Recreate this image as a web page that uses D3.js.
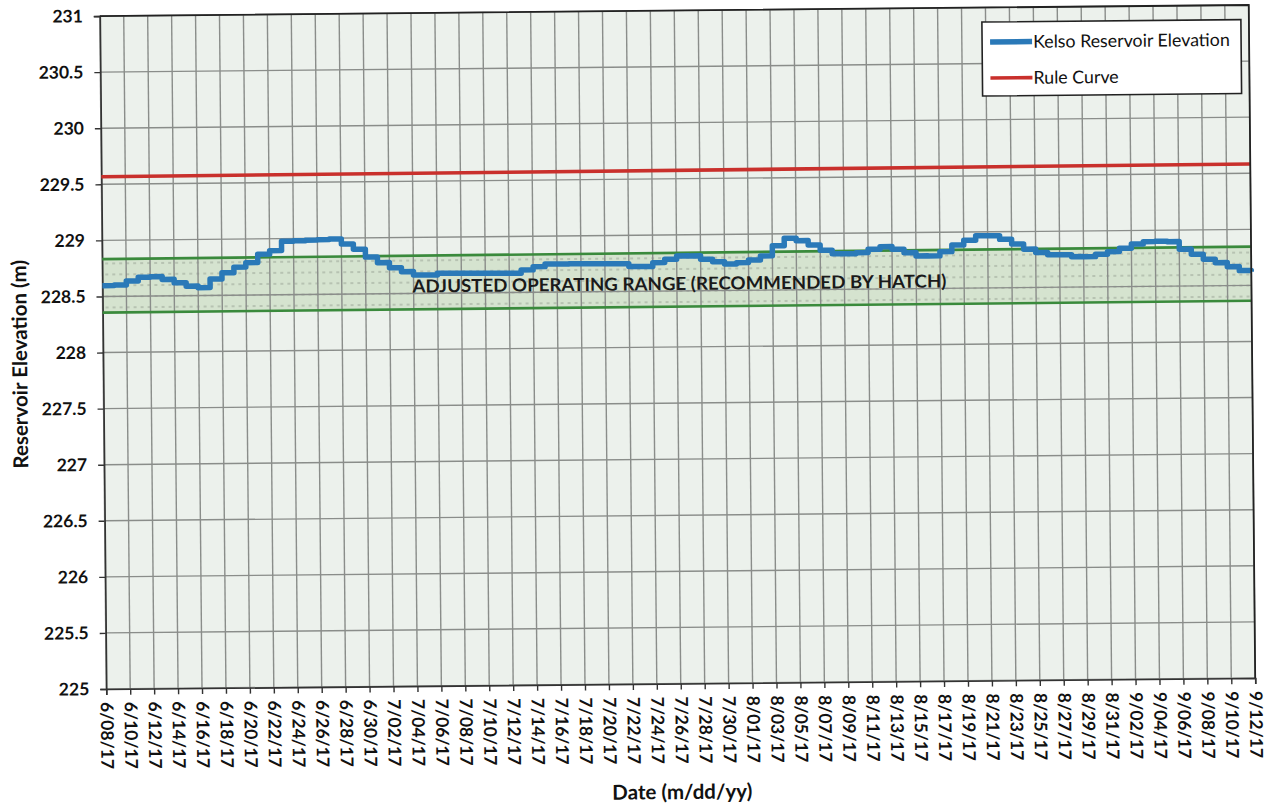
<!DOCTYPE html>
<html><head><meta charset="utf-8">
<script src="https://cdn.jsdelivr.net/npm/d3@7"></script>
<style>
body{margin:0;background:#fff}
svg{display:block}
text{font-family:Lato,'Open Sans','DejaVu Sans',sans-serif}
</style>
</head><body>
<svg id="chart" width="1270" height="807"></svg>
<script>
// ---------------- DATA ----------------
const startDate = "2017-06-08";
const tickLabels = ["6/08/17","6/10/17","6/12/17","6/14/17","6/16/17","6/18/17","6/20/17","6/22/17","6/24/17","6/26/17","6/28/17","6/30/17",
  "7/02/17","7/04/17","7/06/17","7/08/17","7/10/17","7/12/17","7/14/17","7/16/17","7/18/17","7/20/17","7/22/17","7/24/17","7/26/17","7/28/17","7/30/17",
  "8/01/17","8/03/17","8/05/17","8/07/17","8/09/17","8/11/17","8/13/17","8/15/17","8/17/17","8/19/17","8/21/17","8/23/17","8/25/17","8/27/17","8/29/17","8/31/17",
  "9/02/17","9/04/17","9/06/17","9/08/17","9/10/17","9/12/17"];
// daily Kelso reservoir elevation (m), 6/08/17 .. 9/12/17
const elevation = [
  228.596,228.600,228.635,228.668,228.672,228.646,228.615,228.584,228.570,228.646,
  228.701,228.750,228.789,228.863,228.894,228.976,228.980,228.984,228.988,228.992,
  228.947,228.899,228.828,228.777,228.731,228.695,228.664,228.663,228.677,228.676,
  228.675,228.674,228.673,228.672,228.671,228.700,228.728,228.751,228.750,228.751,
  228.750,228.749,228.748,228.747,228.721,228.720,228.754,228.783,228.812,228.811,
  228.780,228.757,228.736,228.747,228.769,228.805,228.894,228.960,228.938,228.898,
  228.850,228.818,228.817,228.826,228.855,228.877,228.853,228.822,228.791,228.790,
  228.827,228.885,228.927,228.966,228.965,228.932,228.889,228.842,228.811,228.790,
  228.789,228.771,228.770,228.791,228.813,228.842,228.879,228.899,228.901,228.897,
  228.829,228.783,228.737,228.706,228.669,228.633,228.622];
const ruleCurve = [229.567, 229.583];     // start, end
const rangeUpper = [228.833, 228.846];    // start, end
const rangeLower = [228.356, 228.363];    // start, end
const yTicks = [225,225.5,226,226.5,227,227.5,228,228.5,229,229.5,230,230.5,231];
const seriesNames = ["Kelso Reservoir Elevation","Rule Curve"];
const rangeLabel = "ADJUSTED OPERATING RANGE (RECOMMENDED BY HATCH)";
const yTitle = "Reservoir Elevation (m)";
const xTitle = "Date (m/dd/yy)";

// ---------------- CHART ----------------
const parse = d3.utcParse("%Y-%m-%d");
const t0 = parse(startDate);
const dayAt = i => d3.utcDay.offset(t0, i);
const tEnd = dayAt(elevation.length - 1);

const L = 103, R = 1252, T = 10.5, B = 683.5;
const x = d3.scaleUtc().domain([t0, tEnd]).range([L, R]);
const y = d3.scaleLinear().domain([225, 231]).range([B, T]);

const svg = d3.select("#chart");
const defs = svg.append("defs");
const pat = defs.append("pattern").attr("id","hatch").attr("patternUnits","userSpaceOnUse")
  .attr("width",7).attr("height",11);
pat.append("rect").attr("width",7).attr("height",11).attr("fill","#d5e3cf");
pat.append("rect").attr("x",1).attr("y",4).attr("width",3).attr("height",2).attr("fill","#a3ad9f").attr("opacity",0.6);

const g = svg.append("g").attr("transform","rotate(-0.55,678,347)");

// plot background
g.append("rect").attr("x",L).attr("y",T).attr("width",R-L).attr("height",B-T).attr("fill","#ecf1ec");

// band (adjusted operating range)
const bandData = [
  {t: t0, lo: rangeLower[0], hi: rangeUpper[0]},
  {t: tEnd, lo: rangeLower[1], hi: rangeUpper[1]}
];
g.append("path").datum(bandData)
  .attr("d", d3.area().x(d=>x(d.t)).y0(d=>y(d.lo)).y1(d=>y(d.hi)))
  .attr("fill","url(#hatch)");

// gridlines
const tickDates = tickLabels.map((s,i)=>dayAt(i*2));
g.append("g").selectAll("line").data(tickDates).join("line")
  .attr("x1",d=>x(d)).attr("x2",d=>x(d)).attr("y1",T).attr("y2",B)
  .attr("stroke","#8a8d8a").attr("stroke-width",1.4);
g.append("g").selectAll("line").data(yTicks).join("line")
  .attr("x1",L).attr("x2",R).attr("y1",d=>y(d)).attr("y2",d=>y(d))
  .attr("stroke","#8a8d8a").attr("stroke-width",1.4);

// axes
const yAxis = d3.axisLeft(y).tickValues(yTicks).tickFormat(d3.format("~g")).tickSize(6).tickPadding(11);
const ya = g.append("g").attr("transform",`translate(${L},0)`).call(yAxis);
ya.select(".domain").attr("stroke","#333").attr("stroke-width",1.6);
ya.selectAll(".tick line").attr("stroke","#333").attr("stroke-width",1.4);
ya.selectAll(".tick text").attr("font-size",17.5).attr("font-weight","bold").attr("fill","#111")
  .style("font-family","Lato,'Open Sans',sans-serif");

const xAxis = d3.axisBottom(x).tickValues(tickDates).tickFormat((d,i)=>tickLabels[i]).tickSize(6).tickPadding(0);
const xa = g.append("g").attr("transform",`translate(0,${B})`).call(xAxis);
xa.select(".domain").attr("stroke","#333").attr("stroke-width",1.6);
xa.selectAll(".tick line").attr("stroke","#333").attr("stroke-width",1.4);
xa.selectAll(".tick text").attr("font-size",17.5).attr("font-weight","bold").attr("fill","#111")
  .style("font-family","Lato,'Open Sans',sans-serif")
  .attr("text-anchor","start").attr("transform","translate(0,13) rotate(90)")
  .attr("x",0).attr("y",0).attr("dy","0.35em");

// range lines
const lineTwo = (vals) => [{t:t0,v:vals[0]},{t:tEnd,v:vals[1]}];
const ln = d3.line().x(d=>x(d.t)).y(d=>y(d.v));
g.append("path").datum(lineTwo(rangeUpper)).attr("d",ln).attr("fill","none").attr("stroke","#3a8a3c").attr("stroke-width",2.6);
g.append("path").datum(lineTwo(rangeLower)).attr("d",ln).attr("fill","none").attr("stroke","#3a8a3c").attr("stroke-width",2.6);
g.append("path").datum(lineTwo(ruleCurve)).attr("d",ln).attr("fill","none").attr("stroke","#c9302c").attr("stroke-width",3.6);

// elevation step line
const elev = elevation.map((v,i)=>({t:dayAt(i), v}));
g.append("path").datum(elev)
  .attr("d", d3.line().x(d=>x(d.t)).y(d=>y(d.v)).curve(d3.curveStepAfter))
  .attr("fill","none").attr("stroke","#2a79b8").attr("stroke-width",5.5)
  .attr("stroke-linejoin","round").attr("stroke-linecap","butt");

// range label
g.append("text").attr("x",680).attr("y",290).attr("text-anchor","middle")
  .attr("font-size",18).attr("font-weight","bold").attr("fill","#1a1a1a")
  .attr("textLength",534).attr("lengthAdjust","spacingAndGlyphs").text(rangeLabel);

// frame (top/right)
g.append("path").attr("d",`M${L},${T}H${R}V${B}`).attr("fill","none").attr("stroke","#222").attr("stroke-width",1.8);

// legend
const lg = g.append("g").attr("transform","translate(985,25)");
lg.append("rect").attr("width",259).attr("height",74).attr("fill","#fff").attr("stroke","#222").attr("stroke-width",1.6);
const legColors = ["#2a79b8","#c9302c"];
const legWidths = [5.5,3.6];
seriesNames.forEach((n,i)=>{
  const yy = 20 + i*36;
  lg.append("line").attr("x1",8).attr("x2",50).attr("y1",yy).attr("y2",yy)
    .attr("stroke",legColors[i]).attr("stroke-width",legWidths[i]);
  lg.append("text").attr("x",51).attr("y",yy).attr("dy","0.35em").attr("font-size",17.8)
    .attr("fill","#111").text(n);
});

// axis titles
g.append("text").attr("transform","translate(27,358) rotate(-90)").attr("text-anchor","middle")
  .attr("font-size",20.5).attr("font-weight","bold").attr("fill","#111").text(yTitle);
g.append("text").attr("x",678).attr("y",799).attr("text-anchor","middle")
  .attr("font-size",20.5).attr("font-weight","bold").attr("fill","#111").text(xTitle);
</script>
</body></html>
